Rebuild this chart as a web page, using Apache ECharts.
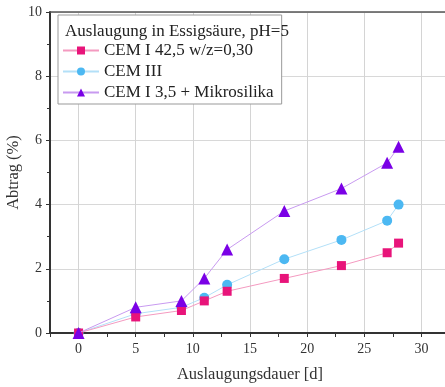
<!DOCTYPE html>
<html>
<head>
<meta charset="utf-8">
<script src="https://cdn.jsdelivr.net/npm/echarts@6/dist/echarts.min.js"></script>
<style>
  html, body { margin: 0; padding: 0; background: #fff; }
  #chart { width: 445px; height: 387px; }
</style>
</head>
<body>
<div id="chart"></div>
<script>
// Auslaugungsdauer in Tagen
const days = [0, 5, 9, 11, 13, 18, 23, 27, 28]
// Abtrag in %
const cemI425 = [0, 0.5, 0.7, 1.0, 1.3, 1.7, 2.1, 2.5, 2.8]
const cemIII = [0, 0.6, 0.8, 1.1, 1.5, 2.3, 2.9, 3.5, 4.0]
const cemIMikro = [0, 0.8, 1.0, 1.7, 2.6, 3.8, 4.5, 5.3, 5.8]
const seriesNames = ['CEM I 42,5 w/z=0,30', 'CEM III', 'CEM I 3,5 + Mikrosilika']
const xTicks = [0, 5, 10, 15, 20, 25, 30]
const yTicks = [0, 2, 4, 6, 8, 10]

const font = 'Liberation Serif, Times New Roman, serif'
const pairs = (ys) => days.map((d, i) => [d, ys[i]])

const chart = echarts.init(document.getElementById('chart'))

const option = {
  animation: false,
  textStyle: { fontFamily: font, color: '#333' },
  grid: { left: 50, top: 12, width: 400, height: 321, containLabel: false, outerBoundsMode: 'none' },
  title: {
    text: 'Auslaugung in Essigsäure, pH=5',
    left: 60,
    top: 18,
    z: 12,
    textStyle: { fontFamily: font, fontSize: 17, fontWeight: 'normal', color: '#222' }
  },
  legend: {
    orient: 'vertical',
    left: 58,
    top: 15,
    z: 10,
    padding: [27, 8, 3, 4],
    itemGap: 4,
    itemWidth: 36,
    itemHeight: 10,
    backgroundColor: '#fff',
    borderColor: '#999',
    borderWidth: 1,
    textStyle: { fontFamily: font, fontSize: 17, color: '#222' },
    data: seriesNames
  },
  xAxis: [
    {
      type: 'value',
      min: -2.5,
      max: 32.5,
      interval: 2.5,
      name: 'Auslaugungsdauer [d]',
      nameLocation: 'middle',
      nameGap: 33,
      nameMoveOverlap: false,
      nameTextStyle: { fontFamily: font, fontSize: 16.5, color: '#333' },
      axisLine: { show: true, onZero: false, lineStyle: { color: '#333', width: 2 } },
      axisTick: { show: true, length: 4, lineStyle: { color: '#333' } },
      axisLabel: {
        fontFamily: font,
        fontSize: 14,
        color: '#333',
        margin: 9,
        formatter: (v) => (xTicks.includes(v) ? String(v) : '')
      },
      splitLine: { show: false }
    },
    {
      type: 'value',
      position: 'top',
      min: -2.5,
      max: 32.5,
      axisLine: { show: true, onZero: false, lineStyle: { color: '#555', width: 1.5 } },
      axisTick: { show: false },
      axisLabel: { show: false },
      splitLine: { show: false }
    }
  ],
  yAxis: {
    type: 'value',
    min: 0,
    max: 10,
    interval: 2,
    name: 'Abtrag (%)',
    nameLocation: 'middle',
    nameGap: 28,
    nameMoveOverlap: false,
    nameTextStyle: { fontFamily: font, fontSize: 16.5, color: '#333' },
    axisLine: { show: true, onZero: false, lineStyle: { color: '#333', width: 2 } },
    axisTick: { show: true, length: 4, lineStyle: { color: '#333' } },
    minorTick: { show: true, splitNumber: 2, length: 3, lineStyle: { color: '#333' } },
    axisLabel: {
      fontFamily: font,
      fontSize: 14,
      color: '#333',
      margin: 8,
      formatter: (v) => (yTicks.includes(v) ? String(v) : '')
    },
    splitLine: { show: true, lineStyle: { color: '#d8d8d8' } }
  },
  series: [
    {
      // vertical grid lines at the major x ticks only
      name: 'grid',
      type: 'line',
      data: [],
      silent: true,
      z: 0,
      markLine: {
        silent: true,
        symbol: 'none',
        z: 0,
        label: { show: false },
        lineStyle: { color: '#d4d4d4', type: 'solid', width: 1 },
        data: xTicks.map((x) => ({ xAxis: x }))
      }
    },
    {
      name: seriesNames[0],
      type: 'line',
      data: pairs(cemI425),
      symbol: 'rect',
      symbolSize: 9,
      itemStyle: { color: '#e8147a' },
      lineStyle: { color: '#f49ac0', width: 1 },
      z: 3
    },
    {
      name: seriesNames[1],
      type: 'line',
      data: pairs(cemIII),
      symbol: 'circle',
      symbolSize: 10,
      itemStyle: { color: '#4cb8f2' },
      lineStyle: { color: '#b3e0f8', width: 1 },
      z: 2
    },
    {
      name: seriesNames[2],
      type: 'line',
      data: pairs(cemIMikro),
      symbol: 'triangle',
      symbolSize: 12,
      itemStyle: { color: '#7a00e6' },
      lineStyle: { color: '#c89af0', width: 1 },
      z: 4
    }
  ]
}

chart.setOption(option)
</script>
</body>
</html>
